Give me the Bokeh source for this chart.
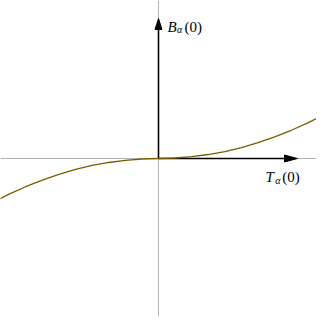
from bokeh.plotting import figure
from bokeh.models import Range1d, Span, Label
from bokeh.embed import file_html
from bokeh.resources import INLINE

# curve values (T_alpha(0) vs B_alpha(0))
t_vals = [-1.0, -0.9, -0.8, -0.7, -0.6, -0.5, -0.4, -0.3, -0.2, -0.1, 0.0,
          0.1, 0.2, 0.3, 0.4, 0.5, 0.6, 0.7, 0.8, 0.9, 1.0]
b_vals = [-0.265, -0.215, -0.170, -0.130, -0.095, -0.066, -0.042, -0.024, -0.011, -0.003, 0.0,
          0.003, 0.011, 0.024, 0.042, 0.066, 0.095, 0.130, 0.170, 0.215, 0.265]

# axis arrow geometry (data units)
X_TIP, X_BASE = 0.837, 0.759
Y_TIP, Y_BASE = 0.843, 0.777
HW = 0.021

half = 158 / 166
p = figure(width=316, height=316, output_backend="svg", toolbar_location=None,
           x_range=Range1d(-half, half), y_range=Range1d(-half, half),
           x_axis_type=None, y_axis_type=None, min_border=0)
p.grid.visible = False
p.outline_line_color = None
p.background_fill_color = "white"

gray = "#b3b3b3"
p.add_layout(Span(location=0, dimension="width", line_color=gray, line_width=1, level="underlay"))
p.add_layout(Span(location=0, dimension="height", line_color=gray, line_width=1, level="underlay"))

# black axis arrows
p.line([0, X_BASE], [0, 0], line_color="black", line_width=1.6)
p.line([0, 0], [0, Y_BASE], line_color="black", line_width=1.6)
p.patch([X_TIP, X_BASE, X_BASE], [0, HW, -HW], fill_color="black", line_color="black")
p.patch([0, HW, -HW], [Y_TIP, Y_BASE, Y_BASE], fill_color="black", line_color="black")

p.line(t_vals, b_vals, line_color="#7a5c00", line_width=1.3)

font = "Liberation Serif"
def lab(x, y, text, size, style):
    p.add_layout(Label(x=x, y=y, text=text, text_font=font, text_font_size=size,
                       text_font_style=style, text_color="black", text_baseline="alphabetic"))

lab(0.054, 0.795, "B", "15px", "italic")
lab(0.112, 0.777, "α", "10px", "italic")
lab(0.157, 0.795, "(0)", "15px", "normal")

lab(0.645, -0.114, "T", "15px", "italic")
lab(0.703, -0.133, "α", "10px", "italic")
lab(0.745, -0.114, "(0)", "15px", "normal")

open("out.html", "w").write(file_html(p, INLINE))
